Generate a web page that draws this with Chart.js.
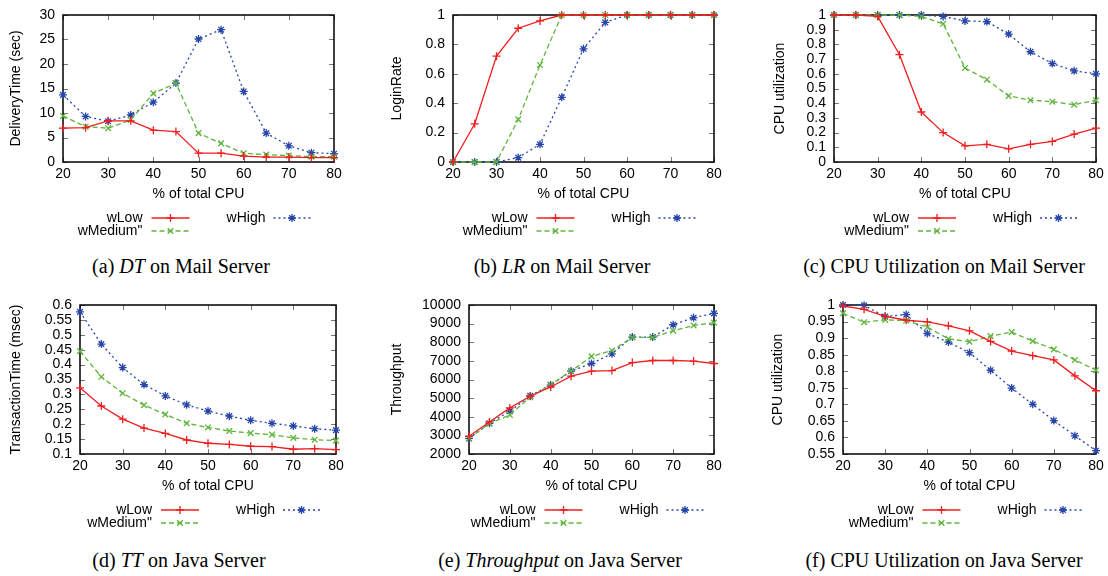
<!DOCTYPE html>
<html>
<head>
<meta charset="utf-8">
<script src="https://cdn.jsdelivr.net/npm/chart.js@4.4.1/dist/chart.umd.min.js"></script>
<style>
  body { margin: 0; background: #fff; }
  #wrap { position: relative; width: 1108px; height: 576px; overflow: hidden; }
  canvas { position: absolute; }
  .cap { position: absolute; font-family: "Liberation Serif", "Times New Roman", serif; font-size: 20px;
         line-height: 22px; color: #000; transform: translateX(-50%); white-space: nowrap; }
</style>
</head>
<body>
<div id="wrap">
  <canvas id="pa" width="370" height="250"></canvas>
  <canvas id="pb" width="370" height="250"></canvas>
  <canvas id="pc" width="368" height="250"></canvas>
  <canvas id="pd" width="370" height="250"></canvas>
  <canvas id="pe" width="370" height="250"></canvas>
  <canvas id="pf" width="368" height="250"></canvas>
  <div class="cap" style="left:181px;top:255px">(a) <i>DT</i> on Mail Server</div>
  <div class="cap" style="left:562px;top:255px">(b) <i>LR</i> on Mail Server</div>
  <div class="cap" style="left:944px;top:255px">(c) CPU Utilization on Mail Server</div>
  <div class="cap" style="left:179px;top:549px">(d) <i>TT</i> on Java Server</div>
  <div class="cap" style="left:560px;top:549px">(e) <i>Throughput</i> on Java Server</div>
  <div class="cap" style="left:944px;top:549px">(f) CPU Utilization on Java Server</div>
</div>
<script>
// x values shared by every panel
var cpu = [20, 25, 30, 35, 40, 45, 50, 55, 60, 65, 70, 75, 80];
var seriesNames = ['wLow', 'wMedium"', 'wHigh'];

// (a) delivery time, mail server
var dtLow    = [6.9, 7.0, 8.4, 8.4, 6.5, 6.2, 1.8, 1.8, 1.2, 1.0, 1.0, 0.9, 0.9];
var dtMedium = [9.4, 7.2, 6.9, 8.6, 14.0, 16.1, 5.9, 3.8, 1.8, 1.5, 1.3, 1.1, 1.1];
var dtHigh   = [13.7, 9.3, 8.3, 9.6, 12.2, 16.1, 25.1, 27.0, 14.4, 5.9, 3.3, 1.9, 1.7];

// (b) login rate, mail server
var lrLow    = [0, 0.26, 0.72, 0.91, 0.96, 1, 1, 1, 1, 1, 1, 1, 1];
var lrMedium = [0, 0, 0, 0.29, 0.66, 1, 1, 1, 1, 1, 1, 1, 1];
var lrHigh   = [0, 0, 0, 0.03, 0.12, 0.44, 0.77, 0.95, 1, 1, 1, 1, 1];

// (c) cpu utilization, mail server
var cmLow    = [1, 1, 0.99, 0.73, 0.34, 0.2, 0.11, 0.12, 0.09, 0.12, 0.14, 0.19, 0.23];
var cmMedium = [1, 1, 1, 1, 0.99, 0.94, 0.64, 0.56, 0.45, 0.42, 0.41, 0.39, 0.42];
var cmHigh   = [1, 1, 1, 1, 1, 0.99, 0.96, 0.955, 0.87, 0.75, 0.67, 0.62, 0.6];

// (d) transaction time, java server
var ttLow    = [0.322, 0.261, 0.217, 0.187, 0.169, 0.147, 0.136, 0.132, 0.126, 0.125, 0.116, 0.118, 0.115];
var ttMedium = [0.445, 0.359, 0.304, 0.264, 0.233, 0.203, 0.189, 0.177, 0.17, 0.165, 0.154, 0.148, 0.145];
var ttHigh   = [0.577, 0.469, 0.39, 0.333, 0.295, 0.265, 0.244, 0.227, 0.213, 0.203, 0.194, 0.185, 0.18];

// (e) throughput, java server
var tpLow    = [2950, 3720, 4475, 5100, 5600, 6180, 6450, 6480, 6910, 7020, 7020, 6990, 6860];
var tpMedium = [2840, 3630, 4100, 5050, 5730, 6450, 7240, 7560, 8260, 8260, 8620, 8900, 9050];
var tpHigh   = [2840, 3650, 4300, 5120, 5700, 6450, 6860, 7380, 8280, 8280, 8940, 9320, 9550];

// (f) cpu utilization, java server
var cjLow    = [0.997, 0.987, 0.966, 0.954, 0.949, 0.937, 0.922, 0.89, 0.861, 0.847, 0.834, 0.786, 0.741];
var cjMedium = [0.975, 0.948, 0.955, 0.953, 0.933, 0.898, 0.889, 0.906, 0.918, 0.891, 0.866, 0.834, 0.803];
var cjHigh   = [1.0, 0.999, 0.965, 0.971, 0.914, 0.888, 0.856, 0.803, 0.749, 0.7, 0.651, 0.605, 0.56];

var colors = ['rgb(240,30,30)', 'rgb(95,180,60)', 'rgb(40,70,170)'];
var dashes = [[], [5, 3], [2, 3]];
var marks = ['cross', 'crossRot', 'star'];
var sans = '"Liberation Sans", Arial, sans-serif';

// border + inward ticks on all four sides, gnuplot style
var frame = {
  id: 'gnuFrame',
  beforeDatasetsDraw: function(chart) {
    var ctx = chart.ctx, a = chart.chartArea;
    var xs = chart.scales.x, ys = chart.scales.y;
    ctx.save();
    ctx.strokeStyle = '#777';
    ctx.lineWidth = 1;
    ctx.beginPath();
    xs.ticks.forEach(function(t) {
      var px = Math.round(xs.getPixelForValue(t.value)) + 0.5;
      ctx.moveTo(px, a.bottom); ctx.lineTo(px, a.bottom - 5);
      ctx.moveTo(px, a.top); ctx.lineTo(px, a.top + 5);
    });
    ys.ticks.forEach(function(t) {
      var py = Math.round(ys.getPixelForValue(t.value)) + 0.5;
      ctx.moveTo(a.left, py); ctx.lineTo(a.left + 5, py);
      ctx.moveTo(a.right, py); ctx.lineTo(a.right - 5, py);
    });
    ctx.stroke();
    ctx.strokeStyle = '#000';
    ctx.lineWidth = 1.5;
    ctx.strokeRect(a.left, a.top, a.right - a.left, a.bottom - a.top);
    ctx.restore();
  }
};

// key below the plot: text right-aligned, then a line sample
var key = {
  id: 'gnuKey',
  afterDraw: function(chart) {
    var ctx = chart.ctx, a = chart.chartArea;
    var cx = (a.left + a.right) / 2;
    var spots = [
      { tx: cx - 56, l: cx - 47, r: cx - 9, y: a.bottom + 56 },
      { tx: cx - 56, l: cx - 47, r: cx - 9, y: a.bottom + 69 },
      { tx: cx + 67, l: cx + 75, r: cx + 112, y: a.bottom + 56 }
    ];
    ctx.save();
    ctx.font = '14px ' + sans;
    ctx.textAlign = 'right';
    ctx.textBaseline = 'middle';
    chart.data.datasets.forEach(function(ds, i) {
      var s = spots[i];
      ctx.fillStyle = '#000';
      ctx.fillText(ds.label, s.tx, s.y);
      ctx.strokeStyle = ds.borderColor;
      ctx.fillStyle = ds.borderColor;
      ctx.lineWidth = 1.3;
      ctx.setLineDash(ds.borderDash);
      ctx.beginPath();
      ctx.moveTo(s.l, s.y); ctx.lineTo(s.r, s.y);
      ctx.stroke();
      ctx.setLineDash([]);
      Chart.helpers.drawPoint(ctx, { pointStyle: ds.pointStyle, radius: 4, borderWidth: 1.3, rotation: 0 },
        (s.l + s.r) / 2, s.y);
    });
    ctx.restore();
  }
};

function fmt(v) { return String(Math.round(v * 1000) / 1000); }

function makePanel(p) {
  var cv = document.getElementById(p.id);
  cv.style.left = p.box[0] + 'px';
  cv.style.top = p.box[1] + 'px';
  var padLeft = p.titleX - p.box[0] - 8;
  var yW = p.plot[0] - p.box[0] - padLeft;
  var xH = 41;
  var padTop = p.plot[1] - p.box[1];
  var padRight = p.box[0] + cv.width - p.plot[2];
  var padBottom = cv.height - (p.plot[3] - p.box[1]) - xH;

  var datasets = p.series.map(function(vals, i) {
    return {
      label: seriesNames[i],
      data: cpu.map(function(x, k) { return { x: x, y: vals[k] }; }),
      borderColor: colors[i],
      backgroundColor: colors[i],
      borderWidth: 1.3,
      borderDash: dashes[i],
      pointStyle: marks[i],
      pointRadius: 4,
      pointBorderWidth: 1.3,
      tension: 0,
      clip: false
    };
  });

  new Chart(cv, {
    type: 'line',
    data: { datasets: datasets },
    options: {
      responsive: false,
      animation: false,
      layout: { padding: { left: padLeft, right: padRight, top: padTop, bottom: padBottom } },
      plugins: { legend: { display: false }, tooltip: { enabled: false } },
      scales: {
        x: {
          type: 'linear', min: 20, max: 80,
          grid: { display: false, drawTicks: false },
          border: { display: false },
          ticks: { stepSize: 10, autoSkip: false, maxRotation: 0, padding: 4, color: '#000',
                   font: { family: sans, size: 14 }, callback: fmt },
          title: { display: true, text: '% of total CPU', color: '#000', padding: 0,
                   font: { family: sans, size: 14 } },
          afterFit: function(s) { s.height = xH; }
        },
        y: {
          min: p.yMin, max: p.yMax,
          grid: { display: false, drawTicks: false },
          border: { display: false },
          ticks: { stepSize: p.yStep, autoSkip: false, padding: 8, color: '#000',
                   font: { family: sans, size: 14, lineHeight: 1 }, callback: fmt },
          title: { display: true, text: p.yTitle, color: '#000', padding: 0,
                   font: { family: sans, size: 14 } },
          afterFit: function(s) { s.width = yW; }
        }
      }
    },
    plugins: [frame, key]
  });
}

var panels = [
  { id: 'pa', box: [0, 0], plot: [63, 12, 334, 162], titleX: 16, yTitle: 'DeliveryTime (sec)',
    yMin: 0, yMax: 30, yStep: 5, series: [dtLow, dtMedium, dtHigh] },
  { id: 'pb', box: [370, 0], plot: [453, 12, 714, 162], titleX: 397, yTitle: 'LoginRate',
    yMin: 0, yMax: 1, yStep: 0.2, series: [lrLow, lrMedium, lrHigh] },
  { id: 'pc', box: [740, 0], plot: [834, 12, 1096, 162], titleX: 780, yTitle: 'CPU utilization',
    yMin: 0, yMax: 1, yStep: 0.1, series: [cmLow, cmMedium, cmHigh] },
  { id: 'pd', box: [0, 290], plot: [80, 305, 336, 454], titleX: 16, yTitle: 'TransactionTime (msec)',
    yMin: 0.1, yMax: 0.6, yStep: 0.05, series: [ttLow, ttMedium, ttHigh] },
  { id: 'pe', box: [370, 290], plot: [469, 305, 714, 454], titleX: 397, yTitle: 'Throughput',
    yMin: 2000, yMax: 10000, yStep: 1000, series: [tpLow, tpMedium, tpHigh] },
  { id: 'pf', box: [740, 290], plot: [843, 305, 1096, 454], titleX: 778, yTitle: 'CPU utilization',
    yMin: 0.55, yMax: 1, yStep: 0.05, series: [cjLow, cjMedium, cjHigh] }
];

panels.forEach(makePanel);
</script>
</body>
</html>
